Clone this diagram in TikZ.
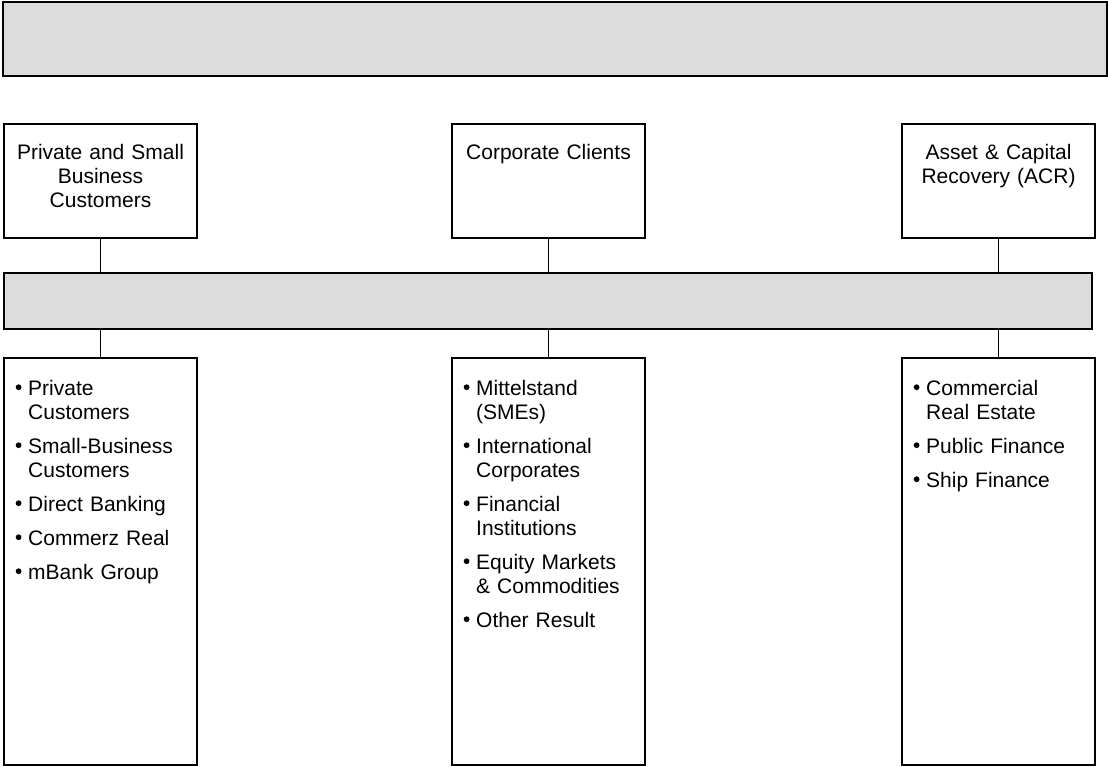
\documentclass[tikz,border=0pt]{standalone}
\usepackage{fontspec}
\setmainfont{Liberation Sans}
\definecolor{barfill}{RGB}{220,220,220}
\newcommand\mybullet{\tikz[baseline=0pt]\fill[black] (0pt,7.8pt) circle (2.9pt);}
\newcommand\bl{\makebox[13pt][l]{\hspace{0.5pt}\mybullet}}
\newcommand\ind{\hspace*{13pt}}
\begin{document}
\begin{tikzpicture}[x=1pt,y=-1pt,
  bar/.style={draw=black,line width=1.3pt,fill=barfill,anchor=north west,inner sep=0pt,outer sep=0pt},
  box/.style={draw=black,line width=1.3pt,fill=white,anchor=north west,inner sep=0pt,outer sep=0pt,minimum width=193pt},
  conn/.style={draw=black,line width=1pt},
  ttext/.style={text width=190pt,align=center,inner sep=0pt,anchor=base,font=\fontsize{21}{24}\selectfont},
  ltext/.style={text width=178pt,align=left,inner sep=0pt,anchor=base west,font=\fontsize{21}{24}\selectfont}]
\useasboundingbox (0,0) rectangle (1108,767);
% top bar
\node[bar,minimum width=1104pt,minimum height=74pt] (top) at (3,2) {};
% segment boxes
\node[box,minimum height=114pt] (t1) at (4,124) {};
\node[box,minimum height=114pt] (t2) at (452,124) {};
\node[box,minimum height=114pt] (t3) at (902,124) {};
% middle bar
\node[bar,minimum width=1088pt,minimum height=56pt] (mid) at (4,273) {};
% lower boxes
\node[box,minimum height=407pt] (b1) at (4,358) {};
\node[box,minimum height=407pt] (b2) at (452,358) {};
\node[box,minimum height=407pt] (b3) at (902,358) {};
% connectors
\draw[conn] (t1.south) -- (t1.south |- mid.north);
\draw[conn] (t2.south) -- (t2.south |- mid.north);
\draw[conn] (t3.south) -- (t3.south |- mid.north);
\draw[conn] (b1.north |- mid.south) -- (b1.north);
\draw[conn] (b2.north |- mid.south) -- (b2.north);
\draw[conn] (b3.north |- mid.south) -- (b3.north);
% texts of segment boxes
\node[ttext] (t1t) at ([yshift=-36pt]t1.north) {Private and Small\\Business\\Customers};
\node[ttext] (t2t) at ([yshift=-36pt]t2.north) {Corporate Clients};
\node[ttext] (t3t) at ([yshift=-36pt]t3.north) {Asset \& Capital\\Recovery (ACR)};
% lists
\node[ltext] (b1t) at ([xshift=11pt,yshift=-37pt]b1.north west) {%
\bl Private\\\ind Customers\\[10pt]
\bl Small-Business\\\ind Customers\\[10pt]
\bl Direct Banking\\[10pt]
\bl Commerz Real\\[10pt]
\bl mBank Group};
\node[ltext] (b2t) at ([xshift=11pt,yshift=-37pt]b2.north west) {%
\bl Mittelstand\\\ind (SMEs)\\[10pt]
\bl International\\\ind Corporates\\[10pt]
\bl Financial\\\ind Institutions\\[10pt]
\bl Equity Markets\\\ind \& Commodities\\[10pt]
\bl Other Result};
\node[ltext] (b3t) at ([xshift=11pt,yshift=-37pt]b3.north west) {%
\bl Commercial\\\ind Real Estate\\[10pt]
\bl Public Finance\\[10pt]
\bl Ship Finance};
\end{tikzpicture}
\end{document}
